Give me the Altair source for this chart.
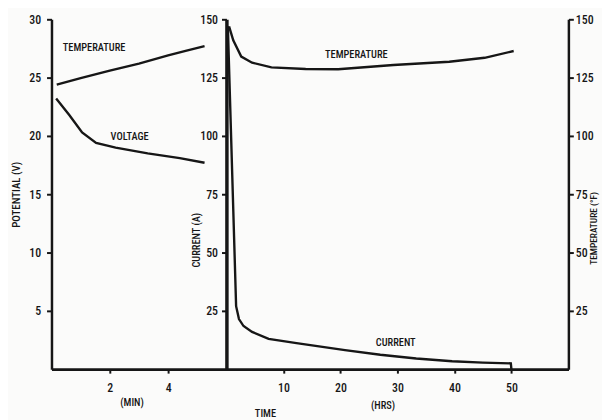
import altair as alt
import pandas as pd

# ---------------- data ----------------
# Left panel: time in minutes, potential scale (V)
min_temp_t = [0.18, 1.0, 2.0, 3.0, 4.0, 4.6, 5.25]
min_temp_v = [24.4, 24.95, 25.6, 26.2, 26.9, 27.3, 27.7]
min_volt_t = [0.16, 0.61, 1.05, 1.53, 2.2, 3.3, 4.4, 5.25]
min_volt_v = [23.2, 21.8, 20.3, 19.4, 19.0, 18.5, 18.1, 17.7]

# Right panel: time in hours
hr_cur_t = [0.25, 1.7, 2.2, 3.0, 4.5, 7.4, 12.3, 20.8, 27.0, 33.3, 39.6, 45.0, 49.9, 50.0]
hr_cur_v = [147, 27, 21.5, 18.5, 16.0, 13.0, 11.2, 8.2, 6.2, 4.6, 3.4, 2.8, 2.5, 0]
hr_temp_t = [0.46, 1.2, 2.6, 4.5, 7.9, 13.9, 19.6, 29.3, 39.1, 45.3, 50.4]
hr_temp_v = [147, 141, 134, 131.4, 129.4, 128.7, 128.6, 130.4, 131.8, 133.5, 136.4]

# Curve labels
left_lbl = ["TEMPERATURE", "VOLTAGE"]
left_lbl_t = [1.46, 2.68]
left_lbl_v = [27.5, 19.9]
cur_lbl, cur_lbl_t, cur_lbl_v = ["CURRENT"], [29.7], [11.4]
tmp_lbl, tmp_lbl_t, tmp_lbl_v = ["TEMPERATURE"], [22.8], [134.7]

pot_ticks = [5, 10, 15, 20, 25, 30]
min_ticks = [2, 4]
hr_ticks = [10, 20, 30, 40, 50]
amp_ticks = [25, 50, 75, 100, 125, 150]
degf_ticks = [25, 50, 75, 100, 125, 150]

# ---------------- layout ----------------
W, H = 523, 354
LEFT_PX = 177                       # width of the minutes panel
split = LEFT_PX / W
MIN_MAX = 6.0
HR_MAX = 60.0
min_domain = [0, MIN_MAX / split]
hr_domain = [-HR_MAX * split / (1 - split), HR_MAX]

FONT = "Roboto Condensed, Roboto, sans-serif"
INK = "#161616"
LBL = 10.5

left_line_df = pd.DataFrame(
    {"t": min_temp_t + min_volt_t,
     "v": min_temp_v + min_volt_v,
     "s": ["temp"] * len(min_temp_t) + ["volt"] * len(min_volt_t)})
left_lbl_df = pd.DataFrame({"t": left_lbl_t, "v": left_lbl_v, "label": left_lbl})
cur_df = pd.DataFrame({"t": hr_cur_t, "v": hr_cur_v})
cur_lbl_df = pd.DataFrame({"t": cur_lbl_t, "v": cur_lbl_v, "label": cur_lbl})
tmp_df = pd.DataFrame({"t": hr_temp_t, "v": hr_temp_v})
tmp_lbl_df = pd.DataFrame({"t": tmp_lbl_t, "v": tmp_lbl_v, "label": tmp_lbl})

# ---- left panel (minutes / potential) ----
xA = alt.X("t:Q", scale=alt.Scale(domain=min_domain, nice=False, zero=False),
           axis=alt.Axis(orient="bottom", values=min_ticks, title="(MIN)",
                         titleX=81, titleY=34, titleBaseline="middle",
                         labelBaseline="middle", labelPadding=15, tickSize=4))
yA = alt.Y("v:Q", scale=alt.Scale(domain=[0, 30], nice=False),
           axis=alt.Axis(orient="left", values=pot_ticks, title="POTENTIAL (V)",
                         titleX=-35, titleBaseline="middle", titleFontSize=11,
                         labelPadding=6, tickSize=5))
left_lines = alt.Chart(left_line_df).mark_line(color=INK, strokeWidth=2.4).encode(
    x=xA, y=yA, detail="s:N")
left_text = alt.Chart(left_lbl_df).mark_text(font=FONT, fontSize=LBL, fontWeight=500,
                                             color=INK).encode(x=xA, y=yA, text="label:N")
layerA = alt.layer(left_lines, left_text)

# ---- right panel: current ----
xB = alt.X("t:Q", scale=alt.Scale(domain=hr_domain, nice=False, zero=False),
           axis=alt.Axis(orient="bottom", values=hr_ticks, title="(HRS)",
                         titleX=335, titleY=37, titleBaseline="middle",
                         labelBaseline="middle", labelPadding=15, tickSize=4))
yB = alt.Y("v:Q", scale=alt.Scale(domain=[0, 150], nice=False),
           axis=alt.Axis(orient="left", offset=-LEFT_PX, values=amp_ticks,
                         title="CURRENT (A)", titleX=-30, titleY=223,
                         titleBaseline="middle", titleFontSize=10.5,
                         labelPadding=4, tickSize=5, domainWidth=3.5))
cur_line = alt.Chart(cur_df).mark_line(color=INK, strokeWidth=2.4).encode(x=xB, y=yB)
cur_text = alt.Chart(cur_lbl_df).mark_text(font=FONT, fontSize=LBL, fontWeight=500,
                                           color=INK).encode(x=xB, y=yB, text="label:N")
layerB = alt.layer(cur_line, cur_text)

# ---- right panel: temperature (°F) ----
xC = alt.X("t:Q", scale=alt.Scale(domain=hr_domain, nice=False, zero=False),
           axis=alt.Axis(orient="bottom", labels=False, ticks=False, domain=False,
                         title="TIME", titleX=216, titleY=45, titleBaseline="middle"))
yC = alt.Y("v:Q", scale=alt.Scale(domain=[0, 150], nice=False),
           axis=alt.Axis(orient="right", values=degf_ticks, title="TEMPERATURE (°F)",
                         titleAngle=270, titleX=25, titleY=211, titleBaseline="middle",
                         titleFontSize=9.5, labelPadding=2, tickSize=5))
tmp_line = alt.Chart(tmp_df).mark_line(color=INK, strokeWidth=2.4).encode(x=xC, y=yC)
tmp_text = alt.Chart(tmp_lbl_df).mark_text(font=FONT, fontSize=LBL, fontWeight=500,
                                           color=INK).encode(x=xC, y=yC, text="label:N")
layerC = alt.layer(tmp_line, tmp_text)

chart = (
    alt.layer(layerA, layerB, layerC)
    .resolve_scale(x="independent", y="independent")
    .resolve_axis(x="independent", y="independent")
    .properties(width=W, height=H,
                padding={"left": 44, "top": 9, "right": 34, "bottom": 50},
                autosize=alt.AutoSizeParams(type="none"),
                background="#fbfbfa")
    .configure_view(stroke=None)
    .configure_axis(grid=False, labelFont=FONT, titleFont=FONT,
                    labelFontSize=12, titleFontSize=10.5, labelColor=INK,
                    titleColor=INK, titleFontWeight=500, labelFontWeight=500,
                    domainColor=INK, tickColor=INK, domainWidth=2.5, tickWidth=2)
)

chart.save("out.html", embed_options={"renderer": "svg", "actions": False})
